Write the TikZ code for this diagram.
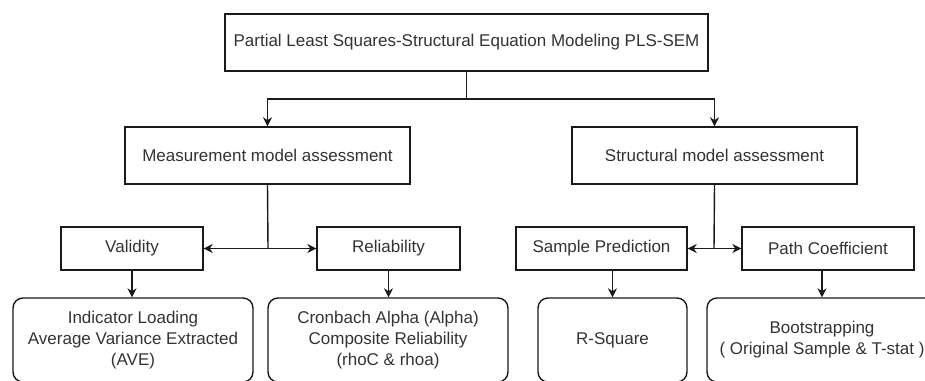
\documentclass[tikz,border=0pt]{standalone}
\usepackage{fontspec}
\setmainfont{Liberation Sans}
\usetikzlibrary{arrows.meta}
\definecolor{txt}{HTML}{333333}
\definecolor{ln}{HTML}{1A1A1A}
\tikzset{
  box/.style={draw=ln, line width=1.4pt, inner sep=0pt, text=txt, align=center,
    font=\fontsize{17}{21}\selectfont},
  rbox/.style={box, rounded corners=10pt},
  arr/.style={draw=ln, line width=1.4pt, -{Stealth[length=9pt,width=9pt]}},
  ln/.style={draw=ln, line width=1.4pt},
}
\begin{document}
\begin{tikzpicture}[x=1pt,y=-1pt]
\useasboundingbox (0,0) rectangle (925,380);
\clip (0,0) rectangle (925,380);
\node[box, minimum width=483pt, minimum height=57pt] (top) at (466.5,42.5) {Partial Least Squares-Structural Equation Modeling PLS-SEM};
\node[box, minimum width=285pt, minimum height=57pt] (meas) at (267.5,155.5) {Measurement model assessment};
\node[box, minimum width=285pt, minimum height=57pt] (struct) at (714.5,155.5) {Structural model assessment};
\node[box, minimum width=142pt, minimum height=43pt] (valid) at (132,248.5) {Validity};
\node[box, minimum width=143pt, minimum height=43pt] (rel) at (388.5,248.5) {Reliability};
\node[box, minimum width=171pt, minimum height=43pt] (samp) at (601.5,248.5) {Sample Prediction};
\node[box, minimum width=172pt, minimum height=43pt] (path) at (828,248.5) {Path Coefficient};
\node[rbox, minimum width=240pt, minimum height=84pt] (ind) at (133,340) {Indicator Loading\\Average Variance Extracted\\(AVE)};
\node[rbox, minimum width=240pt, minimum height=84pt] (cron) at (388,340) {Cronbach Alpha (Alpha)\\Composite Reliability\\(rhoC \& rhoa)};
\node[rbox, minimum width=149pt, minimum height=84pt] (rsq) at (612.5,340) {R-Square};
\node[rbox, minimum width=230pt, minimum height=84pt] (boot) at (822,340) {Bootstrapping\\( Original Sample \& T-stat )};
\coordinate (j1) at (466.5,99);
\coordinate (j2) at (268,248.5);
\coordinate (j3) at (714,248.5);
\draw[ln] (top.south) -- (j1);
\draw[arr] (j1) -| (meas.north);
\draw[arr] (j1) -| (struct.north);
\draw[ln] (meas.south) -- (j2);
\draw[arr] (j2) -- (valid.east);
\draw[arr] (j2) -- (rel.west);
\draw[ln] (struct.south) -- (j3);
\draw[arr] (j3) -- (samp.east);
\draw[arr] (j3) -- (path.west);
\draw[arr] (valid.south) -- (valid.south |- ind.north);
\draw[arr] (rel.south) -- (rel.south |- cron.north);
\draw[arr] (samp.south -| rsq.north) -- (rsq.north);
\draw[arr] (path.south -| boot.north) -- (boot.north);
\end{tikzpicture}
\end{document}
